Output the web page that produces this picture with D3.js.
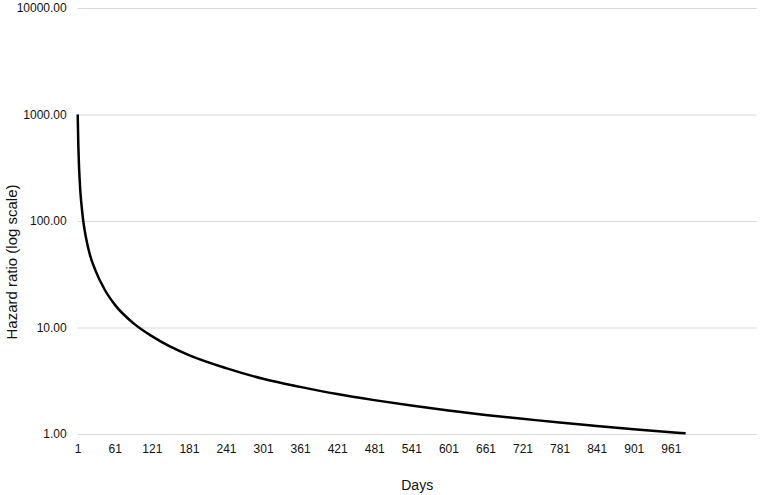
<!DOCTYPE html>
<html>
<head>
<meta charset="utf-8">
<script src="https://cdn.jsdelivr.net/npm/d3@7"></script>
<style>
  html, body { margin: 0; padding: 0; background: #fff; }
  svg { display: block; font-family: Arial, "Liberation Sans", sans-serif; }
</style>
</head>
<body>
<div id="chart"></div>
<script>
// Data (estimated)
const days = [1, 2, 3, 4, 5, 7, 10, 15, 20, 30, 45, 61, 91, 121, 151, 181, 241, 301, 361, 421, 481, 541, 601, 661, 721, 781, 841, 901, 961, 985];
const hazardRatio = [1000, 520, 340, 255, 200, 145, 100, 67, 50, 34, 22.5, 16.4, 11, 8.3, 6.6, 5.5, 4.15, 3.3, 2.77, 2.37, 2.08, 1.85, 1.66, 1.51, 1.39, 1.28, 1.19, 1.11, 1.04, 1.015];
const xTickLabels = [1, 61, 121, 181, 241, 301, 361, 421, 481, 541, 601, 661, 721, 781, 841, 901, 961];
const yTickValues = [1, 10, 100, 1000, 10000];
const xTitle = "Days";
const yTitle = "Hazard ratio (log scale)";

const W = 765, H = 495;
const margin = { left: 77.7, right: 8.3, top: 8, bottom: 61 };

const svg = d3.select("#chart").append("svg")
  .attr("width", W).attr("height", H);

const x = d3.scaleLinear().domain([1, 1100]).range([margin.left, W - margin.right]);
const y = d3.scaleLog().domain([1, 10000]).range([H - margin.bottom, margin.top]);

// gridlines + y labels
const yAxis = d3.axisLeft(y)
  .tickValues(yTickValues)
  .tickSize(-(W - margin.right - margin.left))
  .tickPadding(11)
  .tickFormat(d3.format(".2f"));

const gy = svg.append("g")
  .attr("transform", `translate(${margin.left},0)`)
  .call(yAxis);
gy.select(".domain").remove();
gy.selectAll(".tick line").attr("stroke", "#d9d9d9").attr("stroke-width", 1);
gy.selectAll(".tick text")
  .attr("fill", "#111")
  .style("font-size", "12px")
  .attr("font-family", "Arial, 'Liberation Sans', sans-serif");

// x labels
const xAxis = d3.axisBottom(x)
  .tickValues(xTickLabels)
  .tickSize(0)
  .tickPadding(10)
  .tickFormat(d3.format("d"));
const gx = svg.append("g")
  .attr("transform", `translate(0,${H - margin.bottom})`)
  .call(xAxis);
gx.select(".domain").remove();
gx.selectAll(".tick text")
  .attr("fill", "#111")
  .style("font-size", "12px")
  .attr("font-family", "Arial, 'Liberation Sans', sans-serif");

// line
const line = d3.line()
  .x((d, i) => x(days[i]))
  .y(d => y(d))
  .curve(d3.curveMonotoneX);

svg.append("path")
  .datum(hazardRatio)
  .attr("fill", "none")
  .attr("stroke", "#000")
  .attr("stroke-width", 2.5)
  .attr("stroke-linejoin", "round")
  .attr("d", line);

// titles
svg.append("text")
  .attr("x", (margin.left + W - margin.right) / 2)
  .attr("y", 490)
  .attr("text-anchor", "middle")
  .attr("fill", "#111")
  .style("font-size", "14px")
  .text(xTitle);

svg.append("text")
  .attr("transform", `translate(17,262) rotate(-90)`)
  .attr("text-anchor", "middle")
  .attr("fill", "#111")
  .style("font-size", "15px")
  .text(yTitle);
</script>
</body>
</html>
